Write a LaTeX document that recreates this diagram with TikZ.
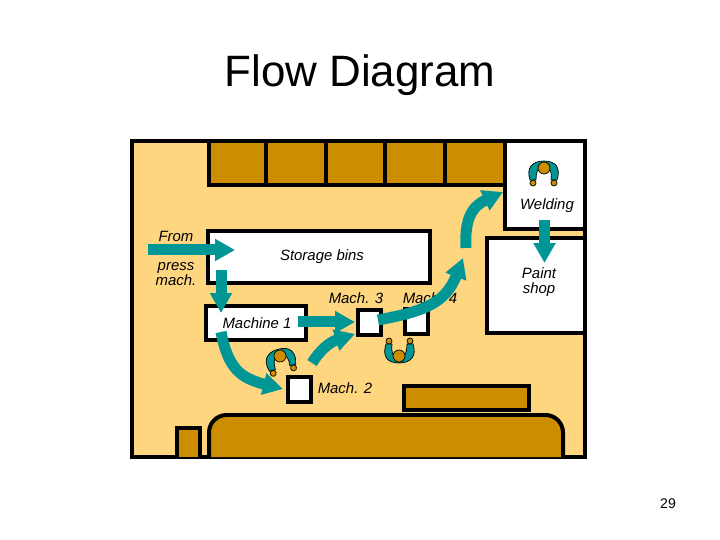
\documentclass[tikz,border=0pt]{standalone}
\usepackage{fontspec}
\setmainfont{Liberation Sans}
\usetikzlibrary{arrows.meta}
\definecolor{floor}{RGB}{255,214,128}
\definecolor{bench}{RGB}{204,141,0}
\definecolor{flow}{RGB}{0,150,150}
\tikzset{
  wall/.style={draw=black,line width=0.08cm},
  label/.style={font=\fontsize{8.5}{8.5}\selectfont\itshape,align=center,inner sep=0pt},
  flowarrow/.style={draw=flow,line width=0.22cm,-{Triangle[length=0.4cm,width=0.42cm]}},
  worker/.pic={
    \draw[fill=flow,line width=0.4pt] (-14,12) .. controls (-18,0) and (-12,-7) .. (0,-7)
      .. controls (12,-7) and (17,0) .. (13,12) -- (7,12)
      .. controls (8,5) and (7,-1) .. (0,-1) .. controls (-7,-1) and (-8,5) .. (-8,12) -- cycle;
    \draw[fill=bench,line width=0.4pt] (0,0) circle (6);
    \draw[fill=bench,line width=0.4pt] (-11,15) circle (3);
    \draw[fill=bench,line width=0.4pt] (10,15) circle (3);
  }
}
\begin{document}
\begin{tikzpicture}[x=0.02cm,y=-0.02cm]
  \useasboundingbox (0,0) rectangle (720,540);
  \node[font=\fontsize{25}{25}\selectfont] (title) at (360,75) {Flow Diagram};
  \node[font=\fontsize{8}{8}\selectfont] (page) at (668,504) {29};

  % the shop floor
  \draw[wall,fill=floor] (132,141) rectangle (585,457);
  \foreach \x/\w in {209/266,266/325.5,325.5/385,385/445,445/505}
    \draw[wall,fill=bench] (\x,141) rectangle (\w,185);
  \draw[wall,fill=white] (505,141) rectangle (585,229);
  \draw[wall,fill=white] (487,238) rectangle (585,333);
  \draw[wall,fill=white] (208,231) rectangle (430,283);
  \draw[wall,fill=white] (206,306) rectangle (306,340);
  \draw[wall,fill=white] (288,377) rectangle (311,402);
  \draw[wall,fill=white] (358,310) rectangle (381,335);
  \draw[wall,fill=white] (405,309) rectangle (428,334);
  \draw[wall,fill=bench] (177,457) |- (200,428) -- (200,457);
  \draw[wall,fill=bench] (404,386) rectangle (529,410);
  \draw[wall,fill=bench,rounded corners=10] (209,457) |- (563,415) -- (563,457);

  % labels
  \node[label] (from) at (176,236) {From};
  \node[label] (press) at (176,274) {press\\mach.};
  \node[label] (bins) at (322,257) {Storage bins};
  \node[label] (mach3) at (356,298) {Mach. 3};
  \node[label] (mach4) at (430,298) {Mach. 4};
  \node[label] (mach1) at (257,323) {Machine 1};
  \node[label] (mach2) at (345,388) {Mach. 2};
  \node[label] (welding) at (547,206) {Welding};
  \node[label] (paint) at (539,282) {Paint\\shop};

  % workers
  \pic at (544,168) {worker};
  \pic[rotate=15] at (280,356) {worker};
  \pic[rotate=180] at (399,356) {worker};

  % flow of the parts
  \coordinate (inA) at (148,250);
  \coordinate (inB) at (235,250);
  \coordinate (binsA) at (221,270);
  \coordinate (binsB) at (221,313);
  \coordinate (oneA) at (298,322);
  \coordinate (oneB) at (355,322);
  \coordinate (oneC) at (221,332);
  \coordinate (twoA) at (283,389);
  \coordinate (twoB) at (312,363);
  \coordinate (twoC) at (355,334);
  \coordinate (threeA) at (378,320);
  \coordinate (threeB) at (463,258);
  \coordinate (upA) at (466,248);
  \coordinate (upB) at (503,192);
  \coordinate (weldA) at (544.5,220);
  \coordinate (weldB) at (544.5,263);
  \draw[flowarrow] (inA) -- (inB);
  \draw[flowarrow] (binsA) -- (binsB);
  \draw[flowarrow] (oneA) -- (oneB);
  \draw[flowarrow] (oneC) .. controls (228,368) and (240,378) .. (twoA);
  \draw[flowarrow] (twoB) .. controls (320,350) and (330,342) .. (twoC);
  \draw[flowarrow] (threeA) .. controls (420,312) and (445,305) .. (threeB);
  \draw[flowarrow] (upA) .. controls (464,215) and (475,205) .. (upB);
  \draw[flowarrow] (weldA) -- (weldB);
\end{tikzpicture}
\end{document}
